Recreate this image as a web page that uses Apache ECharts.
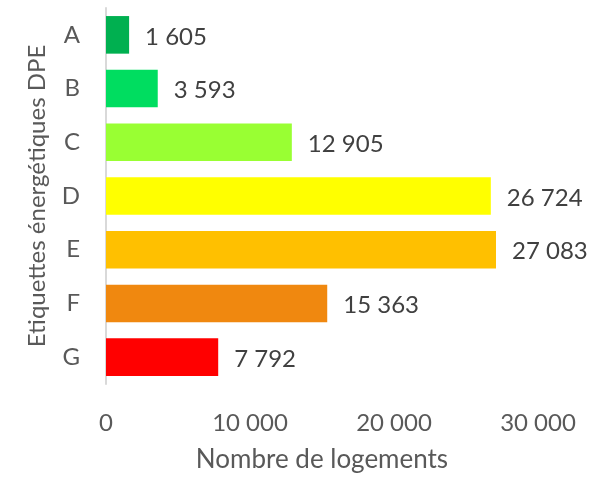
<!DOCTYPE html>
<html><head><meta charset="utf-8">
<script src="https://cdn.jsdelivr.net/npm/echarts@6/dist/echarts.min.js"></script>
<style>html,body{margin:0;padding:0;background:#fff}#c{width:608px;height:478px}</style>
</head><body><div id="c"></div>
<script>
const categories = ['A','B','C','D','E','F','G'];
const values = [1605, 3593, 12905, 26724, 27083, 15363, 7792];
const colors = ['#00B050','#00DD60','#99FF33','#FFFF00','#FFC000','#F0880F','#FF0000'];
const xTicks = [0, 10000, 20000, 30000];
const xName = 'Nombre de logements';
const yName = 'Etiquettes énergétiques DPE';
const fmt = v => String(v).replace(/\B(?=(\d{3})+(?!\d))/g, ' ');
const font = 'Lato, "Open Sans", sans-serif';
const chart = echarts.init(document.getElementById('c'));
chart.setOption({
  animation:false,
  grid:{left:106,right:70,top:8,bottom:90,containLabel:false},
  xAxis:{type:'value',min:xTicks[0],max:xTicks[xTicks.length-1],interval:10000,
    axisLine:{show:false},axisTick:{show:false},splitLine:{show:false},
    axisLabel:{color:'#595959',fontSize:24,fontFamily:font,margin:27,formatter:fmt},
    name:xName,nameLocation:'middle',nameGap:63,
    nameTextStyle:{color:'#595959',fontSize:26,fontFamily:font}},
  yAxis:{type:'category',data:categories,inverse:true,
    axisLine:{show:true,lineStyle:{color:'#d9d9d9',width:2}},axisTick:{show:false},
    axisLabel:{color:'#595959',fontSize:24,fontFamily:font,margin:26},
    name:yName,nameLocation:'middle',nameGap:57,
    nameTextStyle:{color:'#595959',fontSize:24,fontFamily:font}},
  series:[{type:'bar',barCategoryGap:'30%',
    data:values.map((v,i)=>({value:v,itemStyle:{color:colors[i]}})),
    label:{show:true,position:'right',distance:16,offset:[0,2],color:'#404040',fontSize:24,fontFamily:font,
      formatter:p=>fmt(p.value)}}]
});
</script></body></html>
